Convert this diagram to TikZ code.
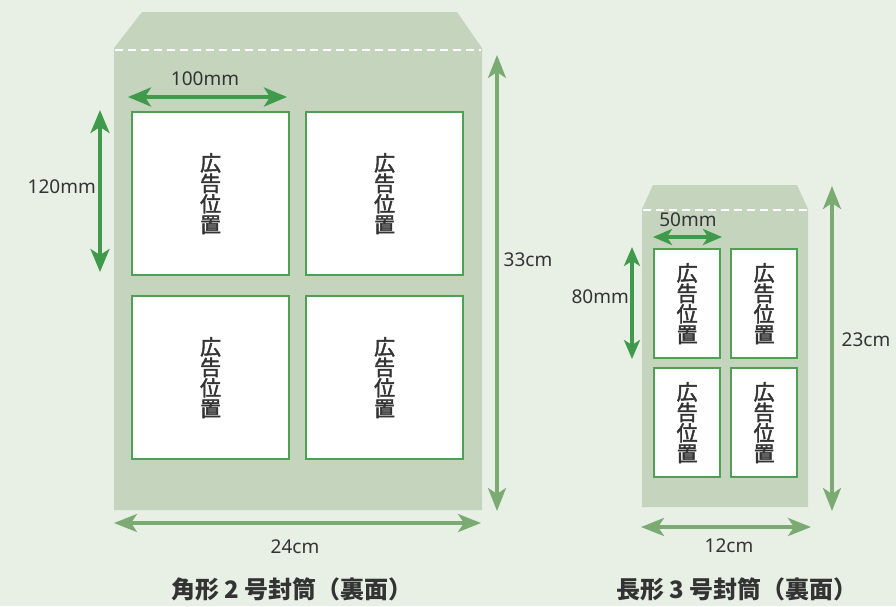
\documentclass[tikz,border=0pt]{standalone}
\usepackage{fontspec}
\setmainfont{Noto Sans CJK JP}
\newfontfamily\medfont{Noto Sans CJK JP}[FakeBold=2.2]
\newfontfamily\latinfont{Noto Sans}
\usetikzlibrary{arrows.meta}
\definecolor{bgc}{HTML}{E8F0E6}
\definecolor{envc}{HTML}{C5D4BD}
\definecolor{darkg}{HTML}{3F9B4B}
\definecolor{lightg}{HTML}{7BAA72}
\definecolor{boxg}{HTML}{4FA055}
\definecolor{txt}{HTML}{333333}
\tikzset{
  adbox/.style={draw=boxg, line width=2.2pt, fill=white, inner sep=0pt, anchor=north west,
    text=txt, font=\medfont\fontsize{21}{20.5}\selectfont, align=center},
  innerdim/.style={draw=darkg, line width=3.6pt, {Stealth[length=23pt,width=19pt,inset=6pt]}-{Stealth[length=23pt,width=19pt,inset=6pt]}},
  smalldim/.style={draw=darkg, line width=3.4pt, {Stealth[length=19pt,width=16pt,inset=5pt]}-{Stealth[length=19pt,width=16pt,inset=5pt]}},
  outerdim/.style={draw=lightg, line width=3.6pt, {Stealth[length=23pt,width=18pt,inset=6pt]}-{Stealth[length=23pt,width=18pt,inset=6pt]}},
  dimlabel/.style={text=txt, font=\latinfont\fontsize{19}{20}\selectfont, inner sep=1pt},
  title/.style={text=txt, font=\fontsize{24}{24}\selectfont\bfseries},
  envelope/.style={fill=envc, draw=none},
  fold/.style={draw=white, line width=2.8pt, dash pattern=on 8pt off 5pt}
}
\begin{document}
\begin{tikzpicture}[x=1pt,y=-1pt]
\useasboundingbox (0,0) rectangle (896,606);
\fill[bgc] (0,0) rectangle (896,606);

% ---------- big envelope ----------
\path[envelope] (114,48) -- (142,12) -- (457,12) -- (482,48) -- (482,510) -- (114,510) -- cycle;
\coordinate (f1l) at (115,50); \coordinate (f1r) at (481,50);
\draw[fold] (f1l) -- (f1r);

\node[adbox, minimum width=157pt, minimum height=163pt] (b1) at (131,111) {広\\告\\位\\置};
\node[adbox, minimum width=157pt, minimum height=163pt] (b2) at (305,111) {広\\告\\位\\置};
\node[adbox, minimum width=157pt, minimum height=163pt] (b3) at (131,295) {広\\告\\位\\置};
\node[adbox, minimum width=157pt, minimum height=163pt] (b4) at (305,295) {広\\告\\位\\置};

\coordinate (a100l) at (128,97); \coordinate (a100r) at (287,97);
\draw[innerdim] (a100l) -- (a100r);
\node[dimlabel] (l100) at (205,79) {100mm};

\coordinate (a120t) at (100,110); \coordinate (a120b) at (100,272);
\draw[innerdim] (a120t) -- (a120b);
\node[dimlabel, anchor=east] (l120) at (97,187) {120mm};

\coordinate (a33t) at (497,55); \coordinate (a33b) at (497,511);
\draw[outerdim] (a33t) -- (a33b);
\node[dimlabel] (l33) at (528,260) {33cm};

\coordinate (a24l) at (114,523); \coordinate (a24r) at (481,523);
\draw[outerdim] (a24l) -- (a24r);
\node[dimlabel] (l24) at (295,547) {24cm};

\node[title] (t1) at (292,589) {角形 2 号封筒（裏面）};

% ---------- small envelope ----------
\path[envelope] (642,209) -- (653,185) -- (797,185) -- (808,209) -- (808,507) -- (642,507) -- cycle;
\coordinate (f2l) at (643,210); \coordinate (f2r) at (807,210);
\draw[fold] (f2l) -- (f2r);

\node[adbox, minimum width=66pt, minimum height=109pt] (s1) at (653,248) {広\\告\\位\\置};
\node[adbox, minimum width=66pt, minimum height=109pt] (s2) at (730,248) {広\\告\\位\\置};
\node[adbox, minimum width=66pt, minimum height=109pt] (s3) at (653,367) {広\\告\\位\\置};
\node[adbox, minimum width=66pt, minimum height=109pt] (s4) at (730,367) {広\\告\\位\\置};

\coordinate (a50l) at (653,237); \coordinate (a50r) at (722,237);
\draw[smalldim] (a50l) -- (a50r);
\node[dimlabel] (l50) at (688,220) {50mm};

\coordinate (a80t) at (632,247); \coordinate (a80b) at (632,359);
\draw[smalldim] (a80t) -- (a80b);
\node[dimlabel, anchor=east] (l80) at (630,297) {80mm};

\coordinate (a23t) at (832,186); \coordinate (a23b) at (832,511);
\draw[outerdim] (a23t) -- (a23b);
\node[dimlabel] (l23) at (866,340) {23cm};

\coordinate (a12l) at (641,527); \coordinate (a12r) at (811,527);
\draw[outerdim] (a12l) -- (a12r);
\node[dimlabel] (l12) at (729,546) {12cm};

\node[title] (t2) at (737,589) {長形 3 号封筒（裏面）};
\end{tikzpicture}
\end{document}
